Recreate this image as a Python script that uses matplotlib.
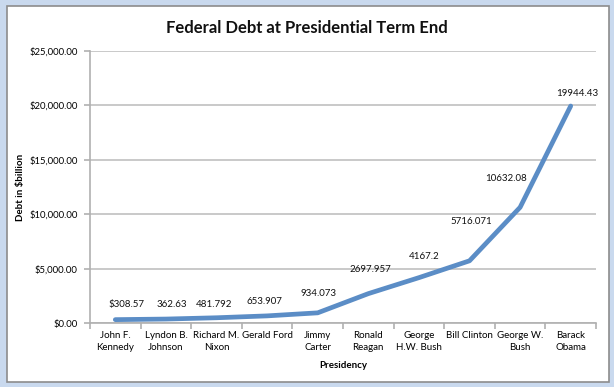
import matplotlib
matplotlib.use("Agg")
import matplotlib.pyplot as plt
from matplotlib.patches import Rectangle
from matplotlib.ticker import FuncFormatter, FixedLocator

# data
presidents = ["John F.\nKennedy", "Lyndon B.\nJohnson", "Richard M.\nNixon", "Gerald Ford",
              "Jimmy\nCarter", "Ronald\nReagan", "George\nH.W. Bush", "Bill Clinton",
              "George W.\nBush", "Barack\nObama"]
debt = [308.57, 362.63, 481.792, 653.907, 934.073, 2697.957, 4167.2, 5716.071, 10632.08, 19944.43]
debt_labels = ["$308.57", "362.63", "481.792", "653.907", "934.073", "2697.957",
               "4167.2", "5716.071", "10632.08", "19944.43"]
y_ticks = [0, 5000, 10000, 15000, 20000, 25000]

plt.rcParams['font.family'] = ['Lato', 'DejaVu Sans']

W, H = 614, 387
fig = plt.figure(figsize=(W / 100, H / 100), dpi=100)
fig.patch.set_facecolor('#c9d9ee')

# chart area (white box with a thin border, like the excel chart object)
fig.patches.append(Rectangle((7 / W, 1 - 382 / H), (609 - 7) / W, (382 - 6) / H,
                             transform=fig.transFigure, facecolor='white',
                             edgecolor='#8c8c8c', lw=1.2, zorder=-1))

ax = fig.add_axes([90 / W, 1 - 323 / H, (596 - 90) / W, (323 - 51) / H])
ax.set_zorder(1)
ax.set_facecolor('none')

x = list(range(len(debt)))
ax.plot(x, debt, color='#5b8dc6', lw=3.4, solid_capstyle='round', solid_joinstyle='round', zorder=3)

# label offsets in pixels (dx, dy) as placed in the reference
offsets = [(11, 15), (6, 15), (-2, 13), (-3, 14), (1, 19), (2, 24), (5, 21), (2, 39), (-14, 29), (7, 13)]
for xi, v, lab, (dx, dy) in zip(x, debt, debt_labels, offsets):
    ax.annotate(lab, (xi, v), xytext=(dx * 0.72, dy * 0.72), textcoords='offset points',
                ha='center', va='center', fontsize=7, color='#111111')

ax.set_xlim(-0.5, len(debt) - 0.5)
ax.set_ylim(0, 25000)
ax.yaxis.set_major_locator(FixedLocator(y_ticks))
ax.yaxis.set_major_formatter(FuncFormatter(lambda v, p: "${:,.2f}".format(v)))
ax.grid(axis='y', color='#c0c0c0', lw=1.2)
ax.set_axisbelow(True)

ax.set_xticks(x)
ax.set_xticklabels(presidents, fontsize=7, linespacing=1.45)
ax.set_xticks([i - 0.5 for i in range(len(debt) + 1)], minor=True)
ax.tick_params(axis='x', which='major', length=0, pad=6)
ax.tick_params(axis='x', which='minor', length=4, color='#b0b0b0', width=1.2)
ax.tick_params(axis='y', length=4, color='#b0b0b0', width=1.2, labelsize=6.8, pad=5)

for s in ['top', 'right']:
    ax.spines[s].set_visible(False)
for s in ['left', 'bottom']:
    ax.spines[s].set_color('#b0b0b0')
    ax.spines[s].set_linewidth(1.2)

ax.set_xlabel('Presidency', fontsize=7, fontweight='bold', labelpad=6)
ax.set_ylabel('Debt in $billion', fontsize=7, fontweight='bold', labelpad=2)
ax.yaxis.set_label_coords(-65 / (596 - 90), 0.5)

fig.text(307 / W, 1 - 28 / H, 'Federal Debt at Presidential Term End', ha='center', va='center',
         fontsize=12, fontweight='bold', color='#111111')

fig.savefig('out.png', dpi=100, facecolor=fig.get_facecolor())
